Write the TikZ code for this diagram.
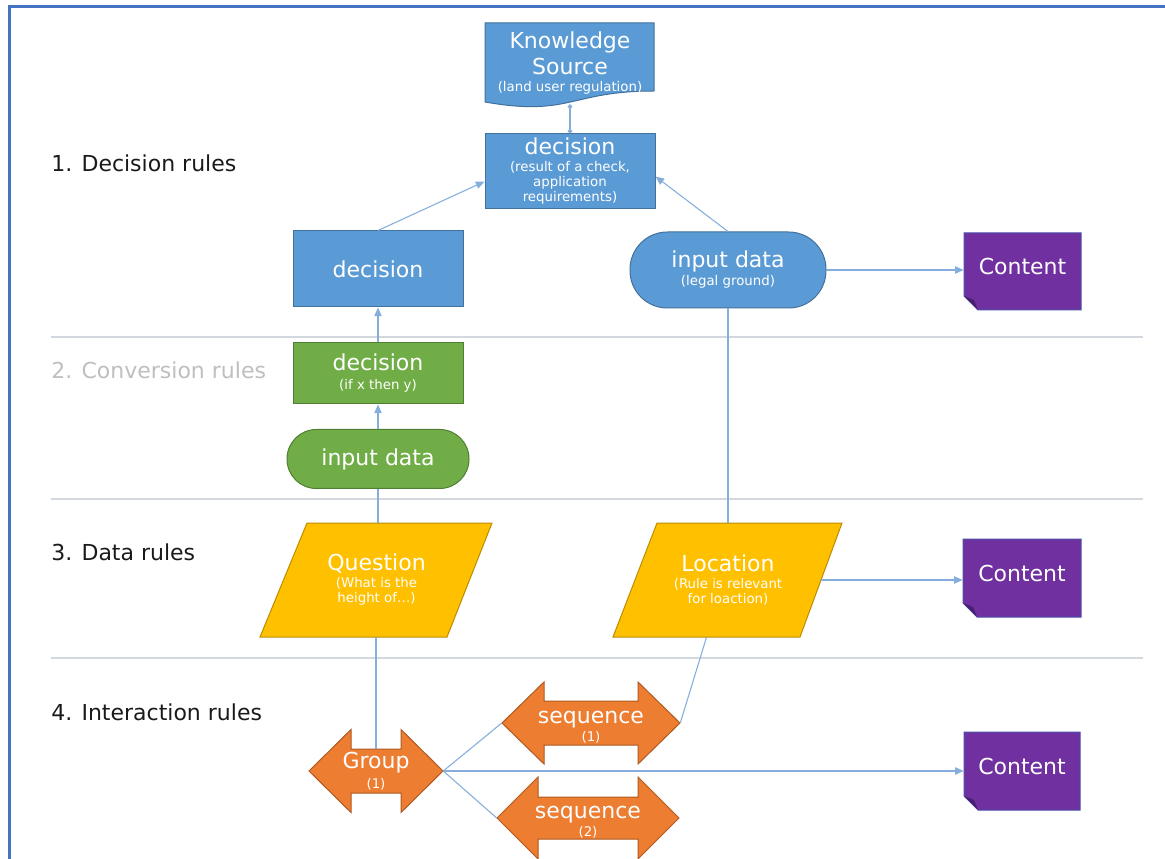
\documentclass[tikz,border=0pt]{standalone}
\usepackage{fontspec}
\setmainfont{DejaVu Sans}
\usetikzlibrary{arrows.meta,calc}
\definecolor{bluefill}{HTML}{5B9BD5}
\definecolor{bluedraw}{HTML}{41719C}
\definecolor{greenfill}{HTML}{70AD47}
\definecolor{greendraw}{HTML}{507E32}
\definecolor{goldfill}{HTML}{FFC000}
\definecolor{golddraw}{HTML}{BC8C00}
\definecolor{orangefill}{HTML}{ED7D31}
\definecolor{orangedraw}{HTML}{AE5A21}
\definecolor{purplefill}{HTML}{7030A0}
\definecolor{purpledraw}{HTML}{4A4FA8}
\definecolor{folddark}{HTML}{4A1F72}
\definecolor{lineblue}{HTML}{85AEDD}
\definecolor{sepgray}{HTML}{D3D7DE}
\definecolor{frameblue}{HTML}{4472C4}
\definecolor{labeltext}{HTML}{1A1A1A}
\definecolor{labelgray}{HTML}{BFBFBF}
\newcommand\txtL[1]{{\fontsize{16.5}{16.5}\selectfont #1}}
\newcommand\nodefnt{\fontsize{10}{11.25}\selectfont\lineskiplimit=-100pt\relax\lineskip=0pt\relax}
\newcommand\cshape[4]{%
  \filldraw[fill=purplefill,draw=purpledraw,line width=0.75pt]
    (#1,#2) -- (#3,#2) -- (#3,#4) -- ({#1+14},#4) -- (#1,{#4-14}) -- cycle;
  \fill[folddark] (#1,{#4-14}) -- ({#1+14},#4) -- ({#1+10},{#4-10}) -- cycle;}
\newcommand\dblarr[7]{%
  \filldraw[#7] ({#1-#3},#2) -- ({#1-#3+#4},{#2-#5}) -- ({#1-#3+#4},{#2-#6})
    -- ({#1+#3-#4},{#2-#6}) -- ({#1+#3-#4},{#2-#5}) -- ({#1+#3},#2)
    -- ({#1+#3-#4},{#2+#5}) -- ({#1+#3-#4},{#2+#6}) -- ({#1-#3+#4},{#2+#6})
    -- ({#1-#3+#4},{#2+#5}) -- cycle;}
\begin{document}
\begin{tikzpicture}[x=0.75pt,y=-0.75pt,
  conn/.style={draw=lineblue,line width=0.8pt},
  arr/.style={conn,-{Triangle[length=6.5pt,width=5.5pt]}},
  sep/.style={draw=sepgray,line width=1pt},
  lbl/.style={font=\fontsize{16.5}{19}\selectfont,text=labeltext,anchor=base west,inner sep=0pt},
  txt/.style={align=center,text=white,inner sep=0pt,font=\nodefnt},
  bluebox/.style={txt,fill=bluefill,draw=bluedraw,line width=0.75pt},
  greenbox/.style={txt,fill=greenfill,draw=greendraw,line width=0.75pt},
  goldshape/.style={fill=goldfill,draw=golddraw,line width=0.75pt},
  orangeshape/.style={fill=orangefill,draw=orangedraw,line width=0.75pt},
  bluedoc/.style={fill=bluefill,draw=bluedraw,line width=0.75pt}]
\fill[white] (0,0) rectangle (1165,859);
\useasboundingbox (0,0) rectangle (1165,859);
% frame
\draw[frameblue,line width=2.25pt] (9,859) -- (9,7) -- (1165,7);
% separators
\draw[sep] (51,337) -- (1143,337);
\draw[sep] (51,499) -- (1143,499);
\draw[sep] (51,658) -- (1143,658);
% labels
\node[lbl] (l1) at (51,172) {1. Decision rules};
\node[lbl,text=labelgray] (l2) at (51,379) {2. Conversion rules};
\node[lbl] (l3) at (51,561) {3. Data rules};
\node[lbl] (l4) at (51,720) {4. Interaction rules};
% knowledge source
\filldraw[bluedoc] (485,23) -- (654,23) -- (654,91) .. controls (570,91) and (570,117) .. (485,102) -- cycle;
\node[txt,minimum width=126.75pt,minimum height=61.5pt] (ks) at (570,63)
  {\txtL{Knowledge}\\[8.25pt]\txtL{Source}\\[1.5pt](land user regulation)};
% decision boxes
\node[bluebox,minimum width=127.5pt,minimum height=56.25pt] (dtop) at (570,171.5)
  {\txtL{decision}\\[1.5pt](result of a check,\\application\\requirements)};
\node[bluebox,minimum width=127.5pt,minimum height=57pt] (dl) at (378,269) {\txtL{decision}};
\node[bluebox,rounded corners=28pt,minimum width=147pt,minimum height=57pt] (bin) at (728,270)
  {\txtL{input data}\\[2.25pt](legal ground)};
\node[greenbox,minimum width=127.5pt,minimum height=45.75pt] (dg) at (378,373.5)
  {\txtL{decision}\\[3pt](if x then y)};
\node[greenbox,rounded corners=22pt,minimum width=136.5pt,minimum height=44.25pt] (gin) at (378,459)
  {\txtL{input data}};
% parallelograms
\filldraw[goldshape] (307,523) -- (492,523) -- (447,637) -- (260,637) -- cycle;
\node[txt,minimum width=139.5pt,minimum height=85.5pt] (q) at (376.5,580)
  {\txtL{Question}\\[1.5pt](What is the\\height of…)};
\filldraw[goldshape] (657,523) -- (842,523) -- (800,637) -- (613,637) -- cycle;
\node[txt,minimum width=139.5pt,minimum height=85.5pt] (loc) at (728,580)
  {\txtL{Location}\\[1.5pt](Rule is relevant\\for loaction)};
% content boxes
\cshape{964}{233}{1081}{310}
\node[txt,minimum width=87.75pt,minimum height=57.75pt] (c1) at (1022.5,271.5) {\txtL{Content}\\[-3.75pt]\mbox{}};
\cshape{963}{539}{1081}{617}
\node[txt,minimum width=88.5pt,minimum height=58.5pt] (c2) at (1022,578) {\txtL{Content}\\[-3.75pt]\mbox{}};
\cshape{964}{732}{1080}{810}
\node[txt,minimum width=87pt,minimum height=58.5pt] (c3) at (1022,771) {\txtL{Content}\\[-3.75pt]\mbox{}};
% double arrows
\dblarr{376}{771}{67}{42}{41.5}{22}{orangeshape}
\node[txt,minimum width=100.5pt,minimum height=62.25pt] (grp) at (376,771) {\txtL{Group}\\[3.5pt](1)};
\dblarr{591}{723}{89}{42}{41}{22}{orangeshape}
\node[txt,minimum width=133.5pt,minimum height=61.5pt] (seq1) at (591,723)
  {\rule{0pt}{16pt}\txtL{sequence}\\[2.25pt](1)};
\dblarr{588}{818}{91}{41}{41}{21}{orangeshape}
\node[txt,minimum width=136.5pt,minimum height=61.5pt] (seq2) at (588,818)
  {\rule{0pt}{16pt}\txtL{sequence}\\[2.25pt](2)};
% connectors
\draw[conn,{Circle[length=3.5pt]}-{Circle[length=3.5pt]}] (ks.south) -- (dtop.north);
\draw[arr] (dl.north) -- ($(dtop.west)+(0,10)$);
\draw[arr] (bin.north) -- ($(dtop.east)+(0,5)$);
\draw[arr] (bin.east) -- (bin.east -| c1.west);
\draw[arr] (dg.north) -- (dl.south);
\draw[arr] (gin.north) -- (dg.south);
\draw[conn] (gin.south) -- (gin.south |- q.north);
\draw[conn] (bin.south) -- (loc.north);
\draw[arr] (loc.east) -- (loc.east -| c2.west);
\draw[conn] (grp.center |- q.south) -- ($(grp.center)+(0,-22)$);
\draw[conn] (grp.east) -- (seq1.west);
\draw[conn] (grp.east) -- (seq2.west);
\draw[arr] (grp.east) -- (c3.west);
\draw[conn] (seq1.east) -- ($(loc.south)+(-21.5,0)$);
\end{tikzpicture}
\end{document}
